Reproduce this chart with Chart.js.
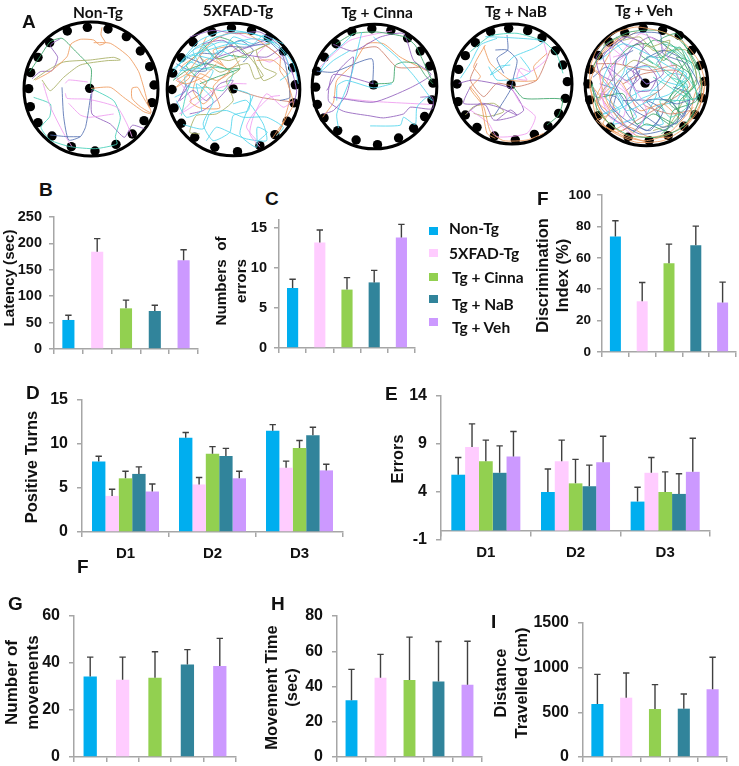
<!DOCTYPE html>
<html>
<head>
<meta charset="utf-8">
<title>Behaviour panels</title>
<script src="https://cdn.jsdelivr.net/npm/chart.js@4"></script>
<style>
    html, body { margin: 0; padding: 0; background: #fff; }
    #page { position: relative; width: 739px; height: 766px; overflow: hidden; }
    #page canvas { position: absolute; }
    .lbl { position: absolute; white-space: pre; transform: translate(0, -50%); color: #111; }
    .mid { transform: translate(-50%, -50%); }
    .letter { font: bold 19px "Liberation Sans", sans-serif; }
    .head { font: bold 15.5px Lato, sans-serif; }
    .swatch { position: absolute; width: 9px; height: 8px; }
</style>
</head>
<body>
<div id="page"></div>
<script>
// ==================== DATA ====================

const groupNames = ['Non-Tg', '5XFAD-Tg', 'Tg + Cinna', 'Tg + NaB', 'Tg + Veh'];
const dayLabels = ['D1', 'D2', 'D3'];

const latencyTicks = [0, 50, 100, 150, 200, 250];
const latencyMeans = [55, 184, 77, 72, 168];
const latencyTops = [64, 209, 92.5, 83, 188];

const errorCountTicks = [0, 5, 10, 15];
const errorCountMeans = [7.5, 13.2, 7.3, 8.2, 13.8];
const errorCountTops = [8.6, 14.75, 8.8, 9.7, 15.45];

const discrimTicks = [0, 20, 40, 60, 80, 100];
const discrimMeans = [73.6, 32.3, 56.6, 68, 31.5];
const discrimTops = [83.6, 44.3, 68.7, 80.2, 44.5];

const turnsTicks = [0, 5, 10, 15];
const turnsMeans = [[8.0, 10.7, 11.5], [4.1, 5.4, 7.3], [6.1, 8.9, 9.55], [6.6, 8.65, 11.0], [4.6, 6.1, 7.0]];
const turnsTops = [[8.6, 11.3, 12.2], [4.85, 6.2, 8.05], [6.9, 9.7, 10.4], [7.4, 9.5, 11.9], [5.45, 6.9, 7.7]];

const dayErrorTicks = [-1, 4, 9, 14];
const dayErrorMeans = [[5.8, 4.0, 3.0], [8.7, 7.2, 6.0], [7.2, 4.9, 4.0], [6.0, 4.6, 3.8], [7.7, 7.1, 6.1]];
const dayErrorTops = [[7.6, 6.4, 4.5], [11.1, 9.4, 7.6], [9.4, 7.4, 6.1], [8.8, 6.8, 5.9], [10.3, 9.8, 9.6]];

const movementTicks = [0, 20, 40, 60];
const movementMeans = [34.3, 32.9, 33.7, 39.4, 38.7];
const movementTops = [42.5, 42.5, 44.8, 45.7, 50.5];

const moveTimeTicks = [0, 20, 40, 60, 80];
const moveTimeMeans = [32.2, 45, 43.7, 42.9, 41];
const moveTimeTops = [49.7, 58.2, 68, 65.5, 65.7];

const distanceTicks = [0, 500, 1000, 1500];
const distanceMeans = [593, 664, 537, 541, 757];
const distanceTops = [925, 940, 810, 705, 1116];

// Barnes maze: hole positions and tracks, flat x,y lists in tracker units
const nonTgHoles = [201,93,261,82,323,87,378,110,420,153,448,200,461,255,455,308,431,362,396,402,347,433,284,453,213,440,155,408,113,368,90,320,85,266,91,218,113,172,148,128,268,265];
const xfadHoles = [580,125,637,95,695,83,755,90,805,112,851,153,878,202,886,253,882,307,862,362,825,402,780,435,713,453,645,440,585,410,545,368,523,322,517,267,519,218,545,172,700,265];
const cinnaHoles = [1055,93,1115,85,1172,90,1222,113,1260,152,1288,197,1298,248,1295,298,1273,348,1240,383,1195,412,1132,432,1068,418,1013,390,972,352,952,312,947,260,950,212,973,170,1008,130,1120,253];
const nabHoles = [361,95,415,85,472,92,515,113,555,152,577,195,591,245,585,295,565,340,533,378,492,403,435,420,372,408,320,382,285,345,263,305,260,252,265,208,285,167,315,128,422,254];
const vehHoles = [765,97,820,83,878,90,928,105,965,150,990,195,1003,243,995,292,975,342,942,377,895,405,838,420,775,410,722,380,685,345,660,298,655,250,662,207,685,165,718,125,826,248];

const nonTgInks = ['orange','orange','orange','olive','green','violet','blue','blue','pink','pink','pink','pink','teal','violet'];
const nonTgTracks = [
    [305,82,302,105,315,128,298,135,280,120,240,118,212,132,200,170,150,215,105,240],
    [280,128,330,130,385,170,415,215,430,262,440,300,452,338,420,320,395,295,395,265,412,262,425,285,448,325],
    [272,265,330,262,370,292,430,335,452,342],
    [100,240,140,212,190,186,270,180,340,172,360,180,320,182,240,195,190,232,150,272,125,240],
    [270,262,272,205,220,148,185,115,150,125,122,165,88,215],
    [180,116,150,136,172,172,155,212,120,215,95,236],
    [185,262,190,350,205,420,240,410,256,380,272,282],
    [150,405,200,410,240,410],
    [128,250,150,320,190,400,215,440],
    [195,250,205,240,262,246],
    [195,280,200,295,265,298,350,322,380,372,395,410],
    [205,310,240,345,265,352,340,342],
    [272,265,340,302,360,352,345,410,350,432,285,446,210,440,150,420,122,382,148,350,150,312,100,292],
    [275,270,275,342,330,372,372,412,396,376,432,386]
];

const xfadInks = ['cyan','cyan','cyan','cyan','cyan','cyan','orange','orange','orange','violet','violet','pink','pink','olive','olive','green','blue','teal','brick','cyan','pink','orange','cyan','orange','pink','violet','olive','cyan','green','blue','cyan','orange'];
const xfadTracks = [
    [520,215,560,170,620,150,690,130,760,115,830,130,880,190,895,250],
    [540,190,590,140,650,110,720,95,790,110,850,155,870,215,840,240],
    [700,265,750,282,745,330,700,345,690,395,640,420,610,370,640,300,590,250,605,330,560,350,530,300],
    [760,285,720,400,770,440,772,380,802,395,770,425],
    [550,372,610,385,630,340,680,330,730,350,800,350,850,380,830,405],
    [520,205,580,165,640,175,610,140,580,180,540,210,600,200,660,150,700,170],
    [830,405,860,350,880,310,860,240,840,210,840,170,790,130,740,100,680,100,630,130,560,220,530,240,560,250,610,230,650,190],
    [818,412,852,362],
    [560,222,620,242,600,282,570,302,600,322,660,322,640,260,680,220,720,180],
    [530,310,590,222,650,172,710,152,790,132,870,200,890,272,880,312],
    [570,110,640,90,710,100,780,95,840,140,800,170,730,160,670,120,610,130],
    [530,230,575,300,540,340,590,310,640,270,700,250,740,250],
    [880,300,850,320,800,280,760,350,750,400,780,440],
    [600,400,570,395,590,345,650,340,700,300,680,240,720,205,700,160],
    [760,170,790,240,830,220,790,200,770,150,810,130,690,180,640,170],
    [520,240,560,210,620,190,680,205,720,205,650,230,600,250],
    [560,170,620,190,680,140,740,140,800,120,850,170,870,290,840,300],
    [600,300,610,260,670,270,700,215,640,200,590,215,560,280,545,345],
    [700,265,780,290,880,305],
    [530,200,600,120,680,90,760,100,820,125,760,135,660,125,590,160],
    [780,430,740,380,760,340,810,290,840,285],
    [840,390,855,350,870,290,860,220,820,180,770,180],
    [525,235,570,185,600,195,580,150,640,130,660,165,700,110,760,130,790,105,850,130],
    [620,110,590,165,545,200,570,230,530,260,575,215,625,175,670,195,640,150,700,135],
    [640,120,700,95,740,110,800,130,770,165,810,185,850,165,880,225],
    [560,250,540,300,580,270,620,300,660,250,700,240,660,290,610,330,570,340],
    [690,160,720,140,790,225,765,235,745,190,700,200,660,215,600,170],
    [525,290,560,270,555,230,590,205,640,210,610,260,570,260,540,240],
    [610,130,650,175,690,165,740,170,700,125,650,110,600,155,560,195,590,230],
    [530,190,570,210,620,210,600,160,650,160,720,120,760,150,730,185],
    [620,420,650,380,700,400,740,415,800,420,790,370,740,300,700,310],
    [600,240,640,280,610,310,580,270,600,220,650,240,690,215,650,180]
];

const cinnaInks = ['cyan','cyan','cyan','green','green','violet','violet','blue','orange','pink','pink','brick','cyan','violet'];
const cinnaTracks = [
    [1085,95,1052,230,1010,340,1015,382],
    [1010,300,1012,255,1040,240,1120,262,1175,250],
    [1110,376,1200,374,1210,350,1245,372,1250,320,1280,290,1296,300,1240,225,1190,170,1120,110],
    [1125,250,1178,245,1185,195,1210,185,1250,190,1275,225,1298,250],
    [1008,130,1060,100,1130,95,1215,110,1245,135,1262,168,1295,240],
    [1000,132,1060,152,1140,110,1210,100,1240,180,1292,222,1230,262,1120,305,1000,290],
    [1120,250,1000,222,985,300,1030,332,1110,346,1150,352,1210,340,1230,320,1296,325,1296,290,1260,290],
    [950,212,1000,215,1115,175,1118,250],
    [968,350,1000,305,1010,240,1060,190,1100,130,1150,130,1200,170,1282,212],
    [1000,290,1110,302,1296,312],
    [960,200,990,170,1050,120,1130,100,1175,92],
    [1060,150,1130,140,1190,200,1262,200],
    [1060,100,1030,130,985,170,960,215,1000,180,1050,150],
    [980,270,1020,205,1060,170,1040,280,1000,330,970,340]
];

const nabInks = ['cyan','cyan','teal','orange','orange','orange','blue','blue','pink','pink','green','violet','violet','olive','brick','cyan'];
const nabTracks = [
    [345,110,400,112,490,118,520,125,490,145,430,170,400,200,360,225,385,200,420,195],
    [380,115,330,135,300,190,270,235],
    [300,155,360,108,440,100,520,125,560,165,578,220],
    [345,135,310,200,330,230,300,265,340,320,360,395,400,422,470,420,520,400],
    [340,140,360,190,420,240,500,240,490,200,530,160],
    [300,260,330,300,350,400,375,415],
    [375,150,410,150,440,180,430,230,420,270,370,350],
    [410,105,412,150,380,175,400,220],
    [420,255,450,310,495,350,470,400,380,410,355,370,300,330],
    [520,125,530,175,480,215,450,205,440,235,470,240,440,205],
    [425,255,460,295,575,298,565,345,530,375],
    [265,250,310,240,420,265,460,330,430,350,370,360,345,315,280,310,300,260],
    [380,360,420,330,440,345,380,320,330,310,290,340],
    [285,345,310,320,370,310,400,335,350,350,310,340],
    [540,150,500,240,440,260,380,250,340,290,300,240,320,190],
    [355,200,380,240,440,235,480,215,450,170]
];

const vehInks = ['orange','green','cyan','violet','blue','pink','brick','olive','teal','blue','orange','green','cyan','pink','violet','green','orange','blue','teal','brick','green','orange','cyan','green','blue','orange','teal','pink','olive','green','blue','orange','cyan','violet'];
const vehTracks = [
    [665,280,680,350,730,395,800,425,880,420,940,385,985,330,1005,250,985,180,940,125,880,95,800,80,730,100,680,150,660,210,665,280],
    [670,200,710,130,780,95,860,90,930,120,980,190,995,260,975,330,930,385,860,410,780,405,720,370,680,320,668,250],
    [690,180,760,130,850,170,900,200,950,220,900,280,840,300,770,330,740,280,700,240,720,190],
    [720,125,680,170,690,220,730,240,700,170,760,110,820,130,800,210,830,250,880,220,860,170],
    [795,205,830,250,860,240,870,290,920,310,960,300,930,360,880,380,830,350,780,320,735,250,740,180,790,150],
    [690,210,700,300,740,360,790,400,830,330,790,260,730,210,720,140,760,170],
    [680,190,740,190,840,210,920,195,880,260,820,310,900,340,960,330],
    [700,135,770,105,840,140,900,120,860,200,790,180,700,270,680,330,740,385],
    [900,180,960,240,985,290,930,300,870,300,900,350,950,320,950,250,900,230],
    [760,300,830,300,880,330,840,390,770,360,720,310,760,230,820,180,880,150,930,170],
    [670,260,720,330,700,370,770,410,830,420,900,400,960,360,995,300,990,230,1000,280,960,350],
    [875,400,930,340,900,290,960,230,930,170,870,120,920,100,960,160,985,210],
    [720,240,760,310,700,340,740,330,800,290,770,210,850,200,880,240,950,260],
    [720,310,760,350,770,280,720,250,690,300,740,180,810,100,870,130,930,240],
    [800,240,790,210,830,195,860,230,840,270,800,270,780,230],
    [790,395,830,370,890,390,910,330,980,300,960,220,880,170,830,130,780,140,720,200],
    [730,390,760,370,720,290,750,240,810,330,880,310,950,370,975,280,1000,240],
    [700,160,790,100,870,100,880,160,950,190,990,270,900,380,810,400,700,330,670,260],
    [850,230,900,260,950,290,920,230,860,190,910,150,960,190],
    [760,250,820,220,920,210,960,255,900,300,800,360,760,390],
    [660,240,680,290,760,280,800,370,850,340,920,370,930,300,970,260,930,140,880,180,830,100],
    [710,360,660,260,690,170,745,115,690,220,720,320,800,405,900,410],
    [740,130,770,170,760,220,710,290,750,330,730,370,800,350,770,300,820,270,870,270],
    [940,340,900,310,930,270,970,300,920,220,950,180,900,130,850,120,810,160,850,190],
    [690,280,740,290,780,350,830,390,870,350,830,300,900,300,940,350,960,280,910,260],
    [680,210,720,260,680,300,720,340,680,360,740,395,780,380,840,410,900,395,970,320],
    [880,130,940,150,970,210,930,250,880,210,830,170,880,170,920,140],
    [730,170,770,160,720,210,760,260,800,330,760,370,720,350,700,300,720,270],
    [760,120,810,110,850,150,900,150,950,150,980,230,940,300,900,370,850,390],
    [940,380,970,340,940,290,980,250,970,190,920,170,940,210,900,290,860,340,910,380],
    [670,230,710,200,770,240,810,210,780,280,830,340,790,390,730,330,740,270,690,250],
    [800,95,760,115,710,140,670,200,700,240,680,290,700,350,760,400,830,425],
    [840,280,900,220,950,230,920,300,860,320,880,370,820,370,860,280,800,300],
    [740,110,780,140,840,110,890,140,850,170,800,130,760,190,810,230,770,270]
];

const inkColors = {
    orange: '#ee9a5c', green: '#3aa468', cyan: '#4fd5ec', teal: '#45d0b8', violet: '#9160bd',
    blue: '#5470b2', pink: '#ee9bf0', olive: '#a6ad62', brick: '#cc7e6a'
};
const groupColors = ['#00aeef', '#ffccff', '#92d050', '#31849b', '#cc99ff'];

// ==================== HELPERS ====================

const page = document.getElementById('page');
const arial = '"Liberation Sans", Arial, sans-serif';
const axisGray = '#a6a6a6';

function addText(text, x, y, cls) {
    const el = document.createElement('div');
    el.className = 'lbl ' + cls;
    el.textContent = text;
    el.style.left = x + 'px';
    el.style.top = y + 'px';
    page.appendChild(el);
}

function addCanvas(left, top, width, height) {
    const canvas = document.createElement('canvas');
    canvas.width = width;
    canvas.height = height;
    canvas.style.left = left + 'px';
    canvas.style.top = top + 'px';
    canvas.style.width = width + 'px';
    canvas.style.height = height + 'px';
    page.appendChild(canvas);
    return canvas;
}

function toPoints(flat) {
    const pts = [];
    for (let i = 0; i < flat.length; i += 2) pts.push({ x: flat[i], y: flat[i + 1] });
    return pts;
}

// upper error bars
const upperErrors = {
    id: 'upperErrors',
    afterDatasetsDraw(chart) {
        const ctx = chart.ctx;
        ctx.save();
        ctx.strokeStyle = '#404040';
        ctx.lineWidth = 1.4;
        chart.data.datasets.forEach((ds, d) => {
            chart.getDatasetMeta(d).data.forEach((bar, i) => {
                const top = chart.scales.y.getPixelForValue(ds.errTops[i]);
                ctx.beginPath();
                ctx.moveTo(bar.x, bar.y);
                ctx.lineTo(bar.x, top);
                ctx.moveTo(bar.x - 3.2, top);
                ctx.lineTo(bar.x + 3.2, top);
                ctx.stroke();
            });
        });
        ctx.restore();
    }
};

// the y titles in the figure are not centred on their axes
function liftTitle(scale, lift) {
    if (!lift || Object.prototype.hasOwnProperty.call(scale, 'drawTitle')) return;
    const drawTitle = scale.drawTitle;
    scale.drawTitle = function () {
        this.ctx.save();
        this.ctx.translate(0, -lift);
        drawTitle.call(this);
        this.ctx.restore();
    };
}

// ==================== BAR PANELS ====================

function drawBars(p) {
    const marginTop = 10, marginRight = 6, marginBottom = 30;
    const canvasLeft = Math.round(p.titleX - p.titleLine / 2);
    const canvas = addCanvas(canvasLeft, p.top - marginTop, p.right + marginRight - canvasLeft, p.bottom - p.top + marginTop + marginBottom);

    new Chart(canvas, {
        type: 'bar',
        data: { labels: p.labels, datasets: p.datasets },
        plugins: [upperErrors],
        options: {
            responsive: false,
            animation: false,
            layout: {
                autoPadding: false,
                padding: { top: marginTop, right: marginRight, bottom: p.crossZero ? marginBottom : 0 }
            },
            plugins: { legend: { display: false }, tooltip: { enabled: false } },
            scales: {
                x: {
                    position: p.crossZero ? { y: 0 } : 'bottom',
                    offset: true,
                    afterFit(scale) { scale.height = p.crossZero ? 0 : marginBottom; },
                    border: { color: axisGray, width: 1.5 },
                    grid: { offset: true, drawOnChartArea: false, color: axisGray, tickLength: 5, lineWidth: 1.5 },
                    ticks: {
                        display: p.showDays === true,
                        padding: 8,
                        color: '#111',
                        maxRotation: 0,
                        font: { family: arial, weight: 'bold', size: 15 }
                    }
                },
                y: {
                    min: p.ticks[0],
                    max: p.max,
                    afterBuildTicks(scale) { scale.ticks = p.ticks.map(value => ({ value })); },
                    afterFit(scale) {
                        scale.width = p.left - canvasLeft;
                        scale.paddingTop = 0;
                        scale.paddingBottom = 0;
                        liftTitle(scale, p.titleLift);
                    },
                    border: { color: axisGray, width: 1.5 },
                    grid: { drawOnChartArea: false, color: axisGray, tickLength: 5, lineWidth: 1.5 },
                    ticks: {
                        padding: p.tickPad,
                        color: '#111',
                        autoSkip: false,
                        callback: value => String(value),
                        font: { family: arial, weight: 'bold', size: p.tickSize }
                    },
                    title: {
                        display: true,
                        text: p.title,
                        color: '#111',
                        padding: 0,
                        font: { family: arial, weight: 'bold', size: p.titleSize, lineHeight: p.titleLine + 'px' }
                    }
                }
            }
        }
    });
}

function singleSeries(means, tops, barShare) {
    return [{
        data: means,
        errTops: tops,
        backgroundColor: groupColors,
        categoryPercentage: barShare,
        barPercentage: 1
    }];
}

function perGroupSeries(means, tops) {
    return groupNames.map((name, g) => ({
        label: name,
        data: means[g],
        errTops: tops[g],
        backgroundColor: groupColors[g],
        categoryPercentage: 0.77,
        barPercentage: 1
    }));
}

drawBars({ labels: groupNames, datasets: singleSeries(latencyMeans, latencyTops, 0.42), ticks: latencyTicks, max: 250,
    left: 54, right: 198, top: 217, bottom: 349, tickSize: 14.5, tickPad: 7,
    title: 'Latency (sec)', titleSize: 15.2, titleX: 10, titleLine: 18, titleLift: 5 });
drawBars({ labels: groupNames, datasets: singleSeries(errorCountMeans, errorCountTops, 0.41), ticks: errorCountTicks, max: 16,
    left: 279, right: 415, top: 220, bottom: 348, tickSize: 14.5, tickPad: 7,
    title: ['Numbers  of', 'errors'], titleSize: 15.3, titleX: 222, titleLine: 20, titleLift: 3 });
drawBars({ labels: groupNames, datasets: singleSeries(discrimMeans, discrimTops, 0.41), ticks: discrimTicks, max: 100,
    left: 602, right: 736, top: 195, bottom: 352, tickSize: 13.5, tickPad: 6,
    title: ['Discrimination', 'Index (%)'], titleSize: 16.5, titleX: 543, titleLine: 20, titleLift: -2 });
drawBars({ labels: dayLabels, datasets: perGroupSeries(turnsMeans, turnsTops), ticks: turnsTicks, max: 15, showDays: true,
    left: 82, right: 343, top: 400, bottom: 532, tickSize: 16, tickPad: 9,
    title: 'Positive Turns', titleSize: 16.5, titleX: 32, titleLine: 18, titleLift: -1 });
drawBars({ labels: dayLabels, datasets: perGroupSeries(dayErrorMeans, dayErrorTops), ticks: dayErrorTicks, max: 14, showDays: true, crossZero: true,
    left: 441, right: 710, top: 396, bottom: 540, tickSize: 16, tickPad: 9,
    title: 'Errors', titleSize: 16.3, titleX: 399, titleLine: 18, titleLift: 9 });
drawBars({ labels: groupNames, datasets: singleSeries(movementMeans, movementTops, 0.41), ticks: movementTicks, max: 60,
    left: 74, right: 236, top: 616, bottom: 757, tickSize: 16, tickPad: 9,
    title: ['Number of', 'movements'], titleSize: 17, titleX: 12, titleLine: 21, titleLift: 4 });
drawBars({ labels: groupNames, datasets: singleSeries(moveTimeMeans, moveTimeTops, 0.41), ticks: moveTimeTicks, max: 80,
    left: 337, right: 482, top: 616, bottom: 757, tickSize: 16, tickPad: 9,
    title: ['Movement Time', '(sec)'], titleSize: 16.5, titleX: 272, titleLine: 20, titleLift: -1 });
drawBars({ labels: groupNames, datasets: singleSeries(distanceMeans, distanceTops, 0.42), ticks: distanceTicks, max: 1500,
    left: 583, right: 727, top: 623, bottom: 757, tickSize: 16, tickPad: 9,
    title: ['Distance', 'Travelled (cm)'], titleSize: 16.5, titleX: 501, titleLine: 21, titleLift: 7 });

// ==================== MAZE PANELS ====================

function drawMaze(m) {
    const pad = 12;
    const span = m.radius + pad;
    const size = Math.round(span * 2 / 3);
    const canvas = addCanvas(Math.round((m.originX + m.cx - span) / 3), Math.round((m.cy - span) / 3), size, size);

    const datasets = m.tracks.map((track, i) => ({
        data: toPoints(track),
        showLine: true,
        tension: 0.2,
        borderColor: inkColors[m.inks[i]],
        borderWidth: 0.85,
        pointRadius: 0
    }));
    datasets.push({ data: toPoints(m.holes), pointRadius: 4.7, backgroundColor: '#000', borderWidth: 0 });
    datasets.push({
        data: [{ x: m.cx, y: m.cy }],
        pointRadius: m.radius / 3 - 1,
        backgroundColor: '#fff',
        borderColor: '#000',
        borderWidth: 3,
        clip: false
    });

    new Chart(canvas, {
        type: 'scatter',
        data: { datasets },
        options: {
            responsive: false,
            animation: false,
            layout: { autoPadding: false },
            plugins: { legend: { display: false }, tooltip: { enabled: false } },
            scales: {
                x: { display: false, min: m.cx - span, max: m.cx + span },
                y: { display: false, reverse: true, min: m.cy - span, max: m.cy + span }
            }
        }
    });
}

drawMaze({ holes: nonTgHoles, tracks: nonTgTracks, inks: nonTgInks, originX: 0, cx: 272, cy: 267, radius: 204 });
drawMaze({ holes: xfadHoles, tracks: xfadTracks, inks: xfadInks, originX: 0, cx: 701, cy: 267, radius: 202 });
drawMaze({ holes: cinnaHoles, tracks: cinnaTracks, inks: cinnaInks, originX: 0, cx: 1123, cy: 258, radius: 190 });
drawMaze({ holes: nabHoles, tracks: nabTracks, inks: nabInks, originX: 1110, cx: 425, cy: 252, radius: 183 });
drawMaze({ holes: vehHoles, tracks: vehTracks, inks: vehInks, originX: 1110, cx: 830, cy: 252, radius: 187 });

// ==================== TEXT AND LEGEND ====================

addText('Non-Tg', 98, 12, 'mid head');
addText('5XFAD-Tg', 238, 10, 'mid head');
addText('Tg + Cinna', 377, 12, 'mid head');
addText('Tg + NaB', 516, 11, 'mid head');
addText('Tg + Veh', 644, 10, 'mid head');

const letterNames = ['A', 'B', 'C', 'F', 'D', 'E', 'F', 'G', 'H', 'I'];
const letterX = [22, 39, 265, 537, 26, 385, 77, 8, 271, 491];
const letterY = [22, 190, 199, 199, 393, 394, 567, 604, 604, 622];
letterNames.forEach((name, i) => addText(name, letterX[i], letterY[i], 'letter'));

const legendSwatchY = [231, 253, 277, 299, 322];
const legendTextX = [449, 449, 452, 452, 452];
const legendTextY = [228, 253, 277, 304, 327];
groupNames.forEach((name, i) => {
    const swatch = document.createElement('div');
    swatch.className = 'swatch';
    swatch.style.left = '429px';
    swatch.style.top = (legendSwatchY[i] - 4) + 'px';
    swatch.style.background = groupColors[i];
    page.appendChild(swatch);
    addText(name, legendTextX[i], legendTextY[i], 'head');
});
</script>
</body>
</html>
